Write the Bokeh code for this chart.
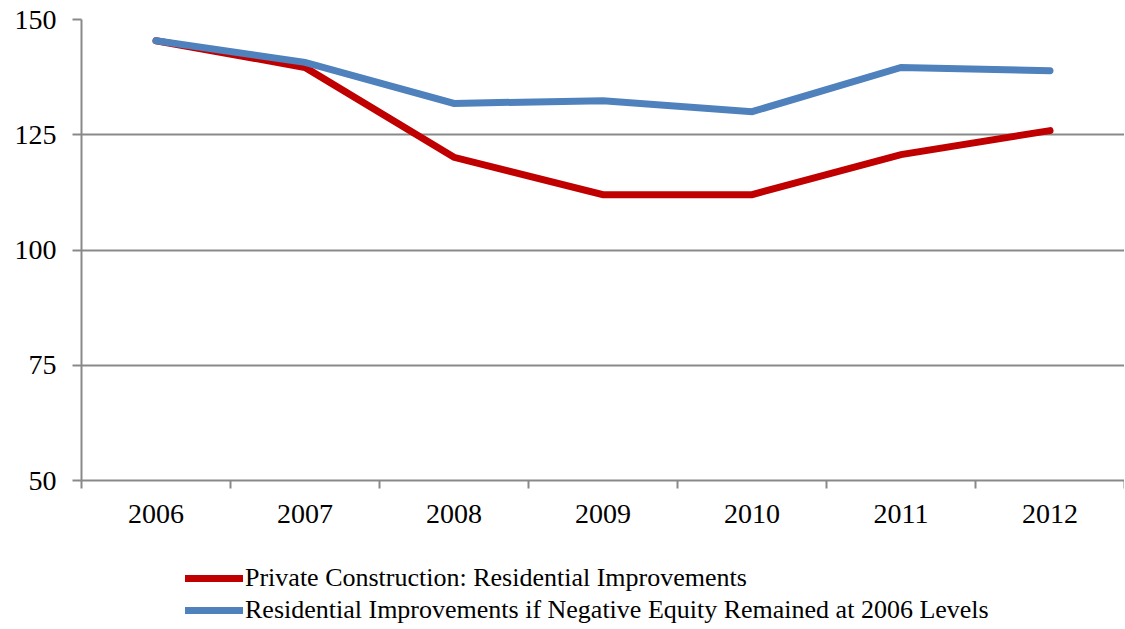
from bokeh.plotting import figure
from bokeh.layouts import column
from bokeh.models import FixedTicker, Range1d, Legend, LegendItem
from bokeh.embed import file_html
from bokeh.resources import INLINE

years = ["2006", "2007", "2008", "2009", "2010", "2011", "2012"]
private_construction = [145.4, 139.6, 120.1, 112.0, 112.0, 120.7, 125.9]
negative_equity_2006 = [145.4, 140.7, 131.8, 132.4, 130.0, 139.6, 138.9]
series_labels = ["Private Construction: Residential Improvements",
                 "Residential Improvements if Negative Equity Remained at 2006 Levels"]
series_colors = ["#C00000", "#4F81BD"]
y_ticks = [50, 75, 100, 125, 150]

xs = list(range(1, len(years) + 1))
FONT = "Liberation Serif"
GRID = "#898989"

p = figure(frame_width=1043, frame_height=461, output_backend="svg",
           toolbar_location=None, x_range=Range1d(0.5, len(years) + 0.5),
           y_range=Range1d(50, 150), min_border_left=81, min_border_top=19,
           min_border_right=0, min_border_bottom=62)
p.outline_line_color = None

p.xaxis.ticker = FixedTicker(ticks=xs, minor_ticks=[x + 0.5 for x in range(0, len(years) + 1)])
p.xaxis.major_label_overrides = {x: y for x, y in zip(xs, years)}
p.xaxis.major_tick_line_color = None
p.xaxis.minor_tick_line_color = GRID
p.xaxis.minor_tick_line_width = 2
p.xaxis.minor_tick_out = 8
p.xaxis.minor_tick_in = 0
p.xaxis.axis_line_color = GRID
p.xaxis.axis_line_width = 2
p.xaxis.major_label_text_font = FONT
p.xaxis.major_label_text_font_size = "28px"
p.xaxis.major_label_text_color = "black"
p.xaxis.major_label_standoff = 16

p.yaxis.ticker = FixedTicker(ticks=y_ticks)
p.yaxis.minor_tick_line_color = None
p.yaxis.major_tick_line_color = GRID
p.yaxis.major_tick_line_width = 2
p.yaxis.major_tick_out = 9
p.yaxis.major_tick_in = 0
p.yaxis.axis_line_color = GRID
p.yaxis.axis_line_width = 2
p.yaxis.major_label_text_font = FONT
p.yaxis.major_label_text_font_size = "28px"
p.yaxis.major_label_text_color = "black"
p.yaxis.major_label_standoff = 16

p.xgrid.grid_line_color = None
p.ygrid.grid_line_color = GRID
p.ygrid.grid_line_width = 2

for vals, col in zip([private_construction, negative_equity_2006], series_colors):
    p.line(xs, vals, line_color=col, line_width=7, line_cap="round", line_join="miter")

# legend panel below the chart (its sample lines lie outside its own ranges)
lg = figure(width=1124, height=87, output_backend="svg", toolbar_location=None,
            x_range=Range1d(0, 1), y_range=Range1d(0, 1), min_border=0)
lg.axis.visible = False
lg.grid.visible = False
lg.outline_line_color = None
items = []
for lab, col in zip(series_labels, series_colors):
    r = lg.line(x=[5, 6], y=[5, 5], line_color=col, line_width=7, line_cap="round")
    items.append(LegendItem(label=lab, renderers=[r]))
legend = Legend(items=items, location=(104, 4), orientation="vertical")
legend.label_text_font = FONT
legend.label_text_font_size = "26px"
legend.label_text_color = "black"
legend.glyph_width = 58
legend.glyph_height = 26
legend.label_height = 26
legend.spacing = 2
legend.label_standoff = 2
legend.padding = 0
legend.margin = 0
legend.border_line_color = None
legend.background_fill_alpha = 0
lg.add_layout(legend, "center")

layout = column(p, lg, spacing=0)
open("out.html", "w").write(file_html(layout, INLINE))
